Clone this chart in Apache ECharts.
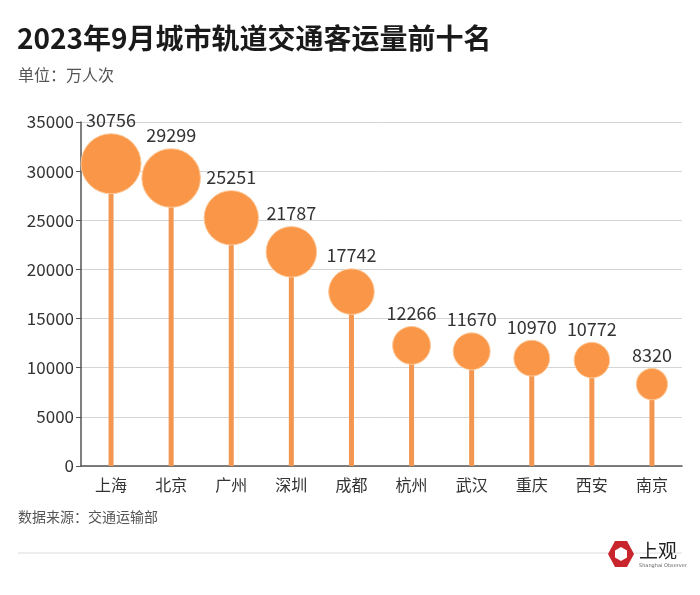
<!DOCTYPE html>
<html>
<head>
<meta charset="utf-8">
<script src="https://cdn.jsdelivr.net/npm/echarts@6/dist/echarts.min.js"></script>
<style>
  html, body { margin: 0; padding: 0; background: #fff; }
  #chart { width: 700px; height: 595px; }
</style>
</head>
<body>
<div id="chart"></div>
<script>
const cities = ['上海', '北京', '广州', '深圳', '成都', '杭州', '武汉', '重庆', '西安', '南京'];
const ridership = [30756, 29299, 25251, 21787, 17742, 12266, 11670, 10970, 10772, 8320];

const FONT = '"Noto Sans CJK SC", "Noto Sans", sans-serif';
const maxVal = Math.max(...ridership);

const chart = echarts.init(document.getElementById('chart'));
chart.setOption({
  backgroundColor: '#fff',
  animation: false,
  textStyle: { fontFamily: FONT },
  title: [
    {
      text: '2023年9月城市轨道交通客运量前十名',
      left: 17, top: 24, padding: 0,
      textStyle: { fontSize: 28, fontWeight: 'bold', color: '#1a1a1a', fontFamily: FONT }
    },
    {
      text: '单位：万人次',
      left: 18, top: 67, padding: 0,
      textStyle: { fontSize: 16, fontWeight: 'normal', color: '#555', fontFamily: FONT }
    },
    {
      text: '数据来源：交通运输部',
      left: 18, top: 510, padding: 0,
      textStyle: { fontSize: 14, fontWeight: 'normal', color: '#555', fontFamily: FONT }
    }
  ],
  grid: { left: 81, right: 18, top: 122, bottom: 129 },
  xAxis: {
    type: 'category',
    data: cities,
    axisLine: { lineStyle: { color: '#555', width: 1.5 } },
    axisTick: { alignWithLabel: true, length: 5, lineStyle: { color: '#555' } },
    axisLabel: { color: '#333', fontSize: 16, margin: 11, fontFamily: FONT }
  },
  yAxis: {
    type: 'value',
    min: 0, max: 35000, interval: 5000,
    axisLine: { show: true, lineStyle: { color: '#555', width: 1.5 } },
    axisTick: { show: true, length: 5, lineStyle: { color: '#555' } },
    axisLabel: { color: '#333', fontSize: 17, margin: 7, fontFamily: FONT, formatter: v => String(v) },
    splitLine: { lineStyle: { color: '#d4d4d4', width: 1 } }
  },
  series: [
    {
      type: 'bar',
      data: ridership,
      barWidth: 5,
      itemStyle: { color: '#F3964F' },
      silent: true,
      z: 2
    },
    {
      type: 'scatter',
      data: ridership,
      symbol: 'circle',
      symbolSize: v => 60 * Math.sqrt(v / maxVal),
      itemStyle: { color: '#FA9647', borderColor: '#FDC99A', borderWidth: 1, opacity: 1 },
      label: {
        show: true,
        position: 'top',
        distance: 4,
        color: '#333',
        fontSize: 18,
        fontFamily: FONT
      },
      z: 3
    }
  ],
  graphic: [
    {
      type: 'line',
      shape: { x1: 18, y1: 553, x2: 682, y2: 553 },
      style: { stroke: '#dcdcdc', lineWidth: 1 }
    },
    {
      type: 'group',
      left: 608, top: 541,
      children: [
        {
          type: 'polygon',
          shape: { points: [[7, 0], [19, 0], [26, 13], [19, 26], [7, 26], [0, 13]] },
          style: { fill: '#C9252C' }
        },
        {
          type: 'polygon',
          shape: { points: [[13, 6], [19, 9.5], [19, 16.5], [13, 20], [7, 16.5], [7, 9.5]] },
          style: { fill: '#fff' }
        },
        {
          type: 'text',
          x: 31, y: 0,
          style: { text: '上观', fontSize: 19, fill: '#222', fontFamily: '"Noto Sans CJK SC", serif', letterSpacing: 2 }
        },
        {
          type: 'text',
          x: 31, y: 22,
          style: { text: 'Shanghai Observer', fontSize: 5, fill: '#666', fontFamily: 'DejaVu Sans' }
        }
      ]
    }
  ]
});
</script>
</body>
</html>
